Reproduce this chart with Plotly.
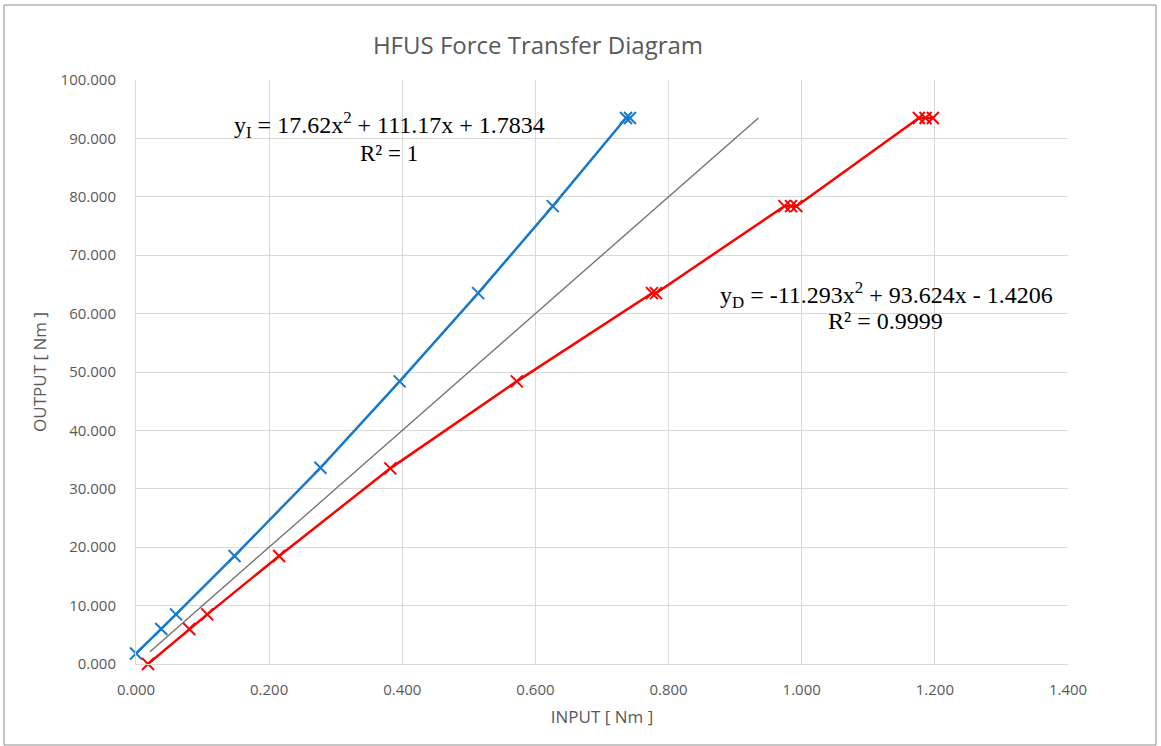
import plotly.graph_objects as go

# Data
inc_input = [0.000, 0.038, 0.060, 0.148, 0.277, 0.396, 0.514, 0.626, 0.736, 0.742]
inc_output = [1.8, 6.0, 8.5, 18.5, 33.6, 48.4, 63.5, 78.4, 93.5, 93.5]

dec_input = [0.018, 0.080, 0.107, 0.215, 0.382, 0.572, 0.775, 0.781, 0.974, 0.984, 0.992, 1.176, 1.186, 1.197]
dec_output = [0.0, 6.0, 8.5, 18.5, 33.5, 48.4, 63.5, 63.5, 78.4, 78.4, 78.4, 93.5, 93.5, 93.5]

ideal_input = [0.021, 0.935]
ideal_output = [2.1, 93.5]

x_ticks = [0.0, 0.2, 0.4, 0.6, 0.8, 1.0, 1.2, 1.4]
y_ticks = [0, 10, 20, 30, 40, 50, 60, 70, 80, 90, 100]

BLUE = "#1779C9"
RED = "#FF0000"
TXT = "#595959"
GRID = "#D9D9D9"

fig = go.Figure()
fig.add_trace(go.Scatter(x=ideal_input, y=ideal_output, mode="lines",
                         line=dict(color="#6E6E6E", width=1.3), showlegend=False))
fig.add_trace(go.Scatter(x=inc_input, y=inc_output, mode="lines+markers",
                         line=dict(color=BLUE, width=2.5), cliponaxis=False,
                         marker=dict(symbol="x-thin-open", size=12, color=BLUE,
                                     line=dict(color=BLUE, width=2)),
                         showlegend=False))
fig.add_trace(go.Scatter(x=dec_input, y=dec_output, mode="lines+markers",
                         line=dict(color=RED, width=2.5), cliponaxis=False,
                         marker=dict(symbol="x-thin-open", size=12, color=RED,
                                     line=dict(color=RED, width=2)),
                         showlegend=False))

L, R, T, B = 136, 93, 80, 82
W, H = 1161, 746
pw, ph = W - L - R, H - T - B

def px(x):
    return (x - L) / pw

def py(y):
    return (H - B - y) / ph

serif = "Liberation Serif, Times New Roman, serif"
fig.add_annotation(x=px(389), y=py(125), xref="paper", yref="paper", showarrow=False,
                   xanchor="center", yanchor="middle",
                   text="y<sub>I</sub> = 17.62x<sup>2</sup> + 111.17x + 1.7834",
                   font=dict(family=serif, size=24, color="black"))
fig.add_annotation(x=px(389), y=py(153), xref="paper", yref="paper", showarrow=False,
                   xanchor="center", yanchor="middle",
                   text="R² = 1", font=dict(family=serif, size=23, color="black"))
fig.add_annotation(x=px(886), y=py(295), xref="paper", yref="paper", showarrow=False,
                   xanchor="center", yanchor="middle",
                   text="y<sub>D</sub> = -11.293x<sup>2</sup> + 93.624x - 1.4206",
                   font=dict(family=serif, size=24, color="black"))
fig.add_annotation(x=px(885), y=py(321), xref="paper", yref="paper", showarrow=False,
                   xanchor="center", yanchor="middle",
                   text="R² = 0.9999", font=dict(family=serif, size=24, color="black"))

# outer chart border
fig.add_shape(type="rect", xref="paper", yref="paper",
              x0=px(4), x1=px(1156), y0=py(745), y1=py(5),
              line=dict(color="#8C8C8C", width=1))

fig.update_layout(
    width=W, height=H,
    margin=dict(l=L, r=R, t=T, b=B),
    paper_bgcolor="white", plot_bgcolor="white",
    font=dict(family="Open Sans, sans-serif", color=TXT, size=15),
    title=dict(text="HFUS Force Transfer Diagram", x=538 / W, xanchor="center",
               y=1 - 46 / H, yanchor="middle",
               font=dict(family="Open Sans, sans-serif", size=24, color=TXT)),
    xaxis=dict(range=[0, 1.4], tickvals=x_ticks, tickformat=".3f",
               showgrid=True, gridcolor=GRID, gridwidth=1,
               showline=True, linecolor=GRID, zeroline=False,
               ticks="", ticklen=0, ticklabelstandoff=12,
               title=dict(text="INPUT [ Nm ]", font=dict(size=17, color=TXT), standoff=13),
               tickfont=dict(size=15, color=TXT)),
    yaxis=dict(range=[0, 100], tickvals=y_ticks, tickformat=".3f",
               showgrid=True, gridcolor=GRID, gridwidth=1,
               showline=True, linecolor=GRID, zeroline=False,
               ticks="", ticklen=0, ticklabelstandoff=16,
               title=dict(text="OUTPUT [ Nm ]", font=dict(size=17, color=TXT), standoff=9),
               tickfont=dict(size=15, color=TXT)),
)

fig.write_html("out.html", config={"displayModeBar": False},
               post_script="document.body.style.margin='0px';")
